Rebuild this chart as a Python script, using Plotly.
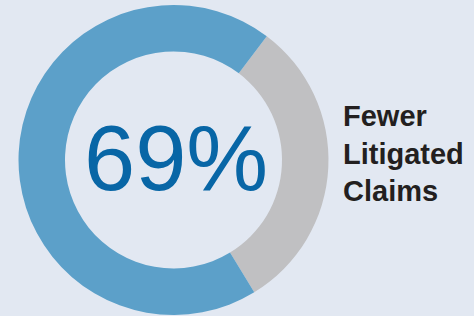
import plotly.graph_objects as go

labels = ["Other", "Fewer Litigated Claims"]
values = [31, 69]
colors = ["#C0C0C2", "#5CA0C9"]
center_text = "69%"
side_text = ["Fewer", "Litigated", "Claims"]

W, H = 474, 316
fig = go.Figure(go.Pie(
    labels=labels, values=values, hole=0.70, sort=False,
    direction="clockwise", rotation=37,
    marker=dict(colors=colors, line=dict(width=0)),
    textinfo="none", hoverinfo="label+value",
    domain=dict(x=[18.5 / W, 328.5 / W], y=[1 / H, 311 / H]),
    showlegend=False,
))
fig.add_annotation(
    text=center_text, x=176 / W, y=1 - 158 / H, xref="paper", yref="paper",
    showarrow=False, font=dict(family="Liberation Sans, Arial", size=92, color="#0866A6"),
    xanchor="center", yanchor="middle",
)
fig.add_annotation(
    text="<br>".join(side_text), x=341 / W, y=1 - 153 / H, xref="paper", yref="paper",
    showarrow=False, align="left",
    font=dict(family="Liberation Sans, Arial", size=29, color="#231F20", weight="bold"),
    xanchor="left", yanchor="middle",
)
fig.update_layout(
    width=W, height=H, margin=dict(l=0, r=0, t=0, b=0),
    paper_bgcolor="#E2E8F2", plot_bgcolor="#E2E8F2",
)
fig.write_html("out.html", config={"displayModeBar": False},
               post_script="document.body.style.margin='0';document.body.style.background='#E2E8F2';")
